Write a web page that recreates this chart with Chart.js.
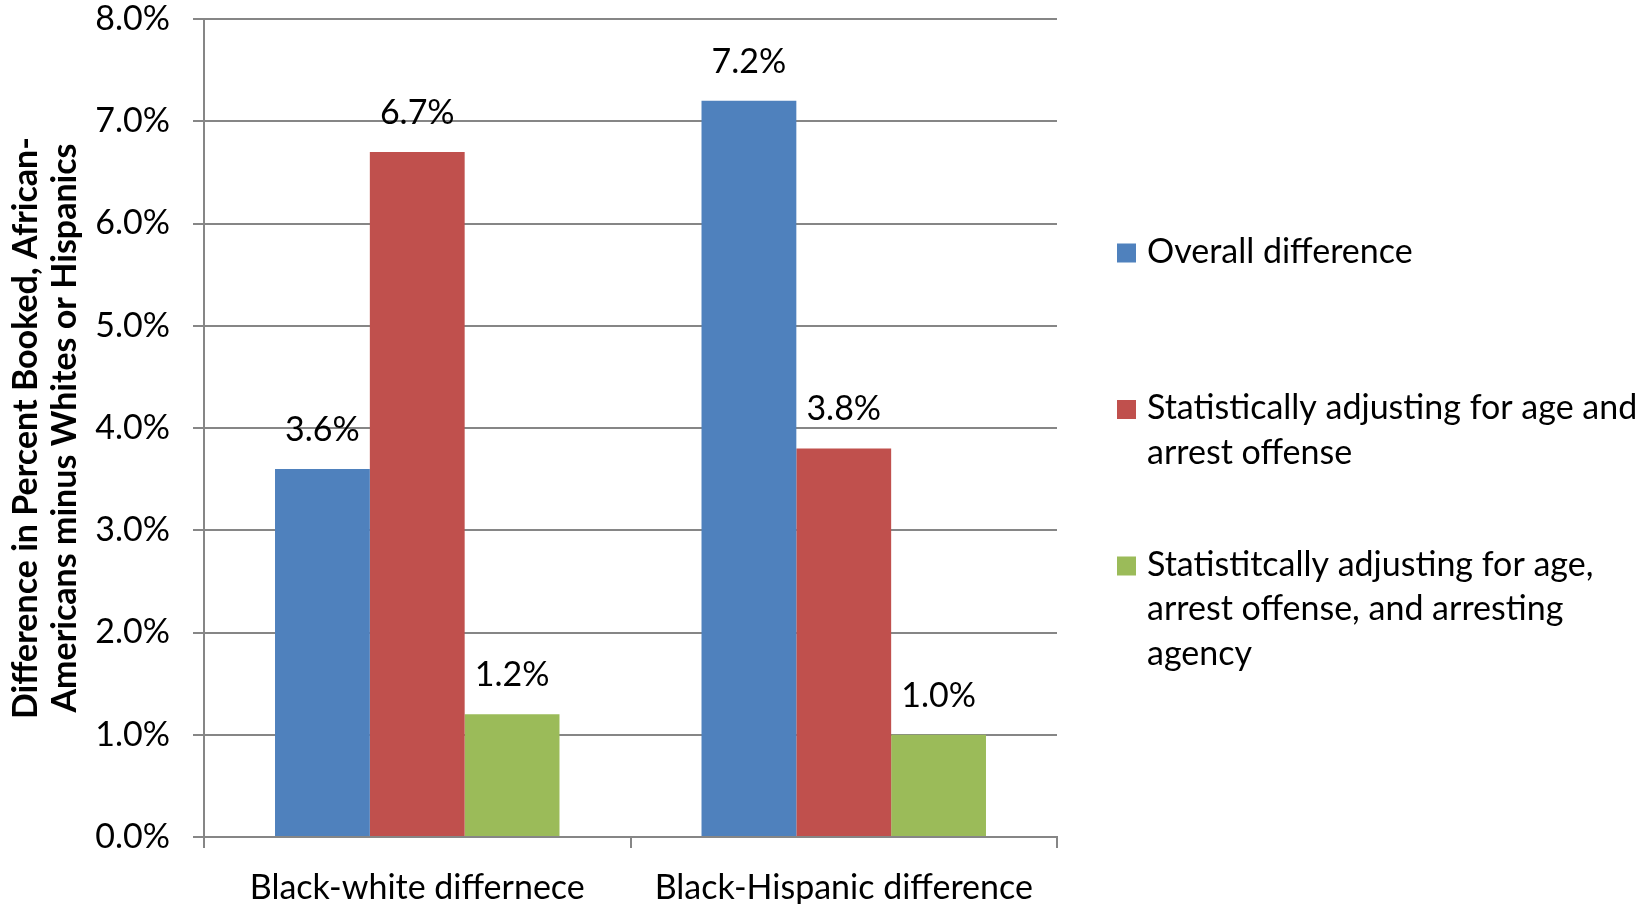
<!DOCTYPE html>
<html>
<head>
<meta charset="utf-8">
<script src="https://cdn.jsdelivr.net/npm/chart.js@4.4.1/dist/chart.umd.min.js"></script>
<style>
  html, body { margin: 0; padding: 0; background: #fff; }
  #wrap { width: 1641px; height: 904px; position: relative; }
</style>
</head>
<body>
<div id="wrap"><canvas id="chart"></canvas></div>
<script>
// Categories and series (values in percentage points)
const categories = ['Black-white differnece', 'Black-Hispanic difference'];
const overallDifference = [3.6, 7.2];
const adjustedAgeOffense = [6.7, 3.8];
const adjustedAgeOffenseAgency = [1.2, 1.0];

// Legend entries, wrapped into lines
const seriesNames = [
  ['Overall difference'],
  ['Statistically adjusting for age and', 'arrest offense'],
  ['Statistitcally adjusting for age,', 'arrest offense, and arresting', 'agency']
];
const seriesColors = ['#4F81BD', '#C0504D', '#9BBB59'];

// Value axis
const yMin = 0;
const yMax = 8;
const yStep = 1;
const yAxisTitle = ['Difference in Percent Booked, African-', 'Americans minus Whites or Hispanics'];

const FONT = 'Lato, "Open Sans", sans-serif';
const TEXT_SIZE = 34;
const GRID = '#868686';
const pct = v => Number(v).toFixed(1) + '%';

// Value labels above each bar
const barValueLabels = {
  id: 'barValueLabels',
  afterDatasetsDraw(chart) {
    const ctx = chart.ctx;
    ctx.save();
    ctx.font = TEXT_SIZE + 'px ' + FONT;
    ctx.fillStyle = '#000';
    ctx.textAlign = 'center';
    ctx.textBaseline = 'middle';
    chart.data.datasets.forEach((ds, i) => {
      chart.getDatasetMeta(i).data.forEach((bar, j) => {
        ctx.fillText(pct(ds.data[j]), bar.x, bar.y - 39);
      });
    });
    ctx.restore();
  }
};

// Legend on the right, one square per series, multi-line labels
const sideLegend = {
  id: 'sideLegend',
  afterDraw(chart) {
    const ctx = chart.ctx;
    const area = chart.chartArea;
    const boxX = area.right + 60;
    const textX = boxX + 30;
    const box = 19;
    const firstY = 252;
    const itemStep = 156.5;
    const lineStep = 44.5;
    ctx.save();
    ctx.font = TEXT_SIZE + 'px ' + FONT;
    ctx.textAlign = 'left';
    ctx.textBaseline = 'middle';
    chart.data.datasets.forEach((ds, i) => {
      const y0 = firstY + i * itemStep;
      ctx.fillStyle = ds.backgroundColor;
      ctx.fillRect(boxX, y0 - box / 2 + 1, box, box);
      ctx.fillStyle = '#000';
      seriesNames[i].forEach((line, k) => {
        ctx.fillText(line, textX, y0 + k * lineStep);
      });
    });
    ctx.restore();
  }
};

new Chart(document.getElementById('chart'), {
  type: 'bar',
  data: {
    labels: categories,
    datasets: [
      { label: seriesNames[0].join(' '), data: overallDifference, backgroundColor: seriesColors[0] },
      { label: seriesNames[1].join(' '), data: adjustedAgeOffense, backgroundColor: seriesColors[1] },
      { label: seriesNames[2].join(' '), data: adjustedAgeOffenseAgency, backgroundColor: seriesColors[2] }
    ]
  },
  options: {
    responsive: true,
    maintainAspectRatio: false,
    animation: false,
    events: [],
    layout: { padding: { top: 19, right: 584, bottom: 0, left: 0 } },
    datasets: {
      bar: { categoryPercentage: 0.667, barPercentage: 1.0, borderWidth: 0 }
    },
    plugins: {
      legend: { display: false },
      tooltip: { enabled: false },
      title: { display: false }
    },
    scales: {
      x: {
        type: 'category',
        grid: {
          offset: true,
          drawOnChartArea: false,
          drawTicks: true,
          tickLength: 11,
          color: GRID,
          lineWidth: 2
        },
        border: { display: true, color: GRID, width: 2 },
        ticks: {
          color: '#000',
          font: { family: FONT, size: TEXT_SIZE, lineHeight: 1.2 },
          padding: 20,
          autoSkip: false,
          maxRotation: 0,
          minRotation: 0
        },
        afterFit(scale) { scale.height = 67; }
      },
      y: {
        min: yMin,
        max: yMax,
        grid: {
          color: GRID,
          lineWidth: 2,
          drawTicks: true,
          tickLength: 11
        },
        border: { display: true, color: GRID, width: 2 },
        ticks: {
          stepSize: yStep,
          color: '#000',
          font: { family: FONT, size: TEXT_SIZE, lineHeight: 1.0 },
          padding: 23,
          callback: v => pct(v)
        },
        title: {
          display: true,
          text: yAxisTitle,
          color: '#000',
          font: { family: FONT, size: 34, weight: 'bold', lineHeight: 1.15 },
          padding: { top: 6, bottom: 0 }
        },
        afterFit(scale) {
          scale.width = 204;
          scale.paddingTop = 0;
          scale.paddingBottom = 0;
        }
      }
    }
  },
  plugins: [barValueLabels, sideLegend]
});
</script>
</body>
</html>
